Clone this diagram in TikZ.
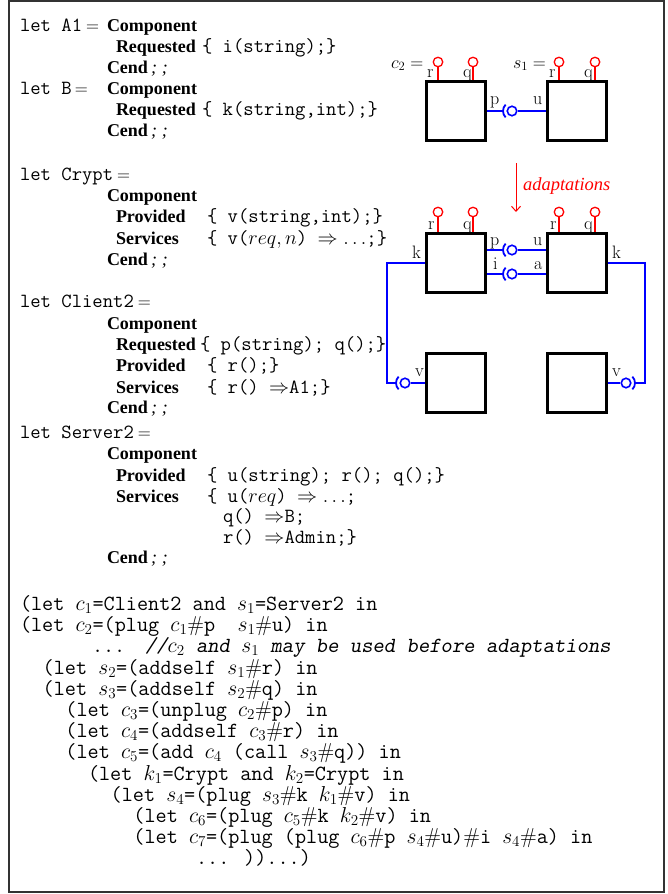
\RequirePackage{fix-cm}
\documentclass[tikz,border=0pt]{standalone}
\usepackage{fontspec}
\newfontfamily\kwfont{Liberation Serif}
\usetikzlibrary{arrows.meta}

\tikzset{
  txt/.style={inner sep=0pt, outer sep=0pt, anchor=base west, font=\fontsize{18}{21}\selectfont},
  kw/.style={txt, font=\fontsize{18}{21}\selectfont\kwfont\bfseries},
  code/.style={txt, font=\fontsize{20.1}{21}\selectfont\ttfamily, text height=13pt, text depth=4pt},
  prog/.style={txt, font=\fontsize{21.6}{21}\selectfont\ttfamily, text height=13pt, text depth=4pt},
  note/.style={prog, font=\fontsize{21.6}{21}\selectfont\ttfamily\slshape},
  port/.style={txt, font=\fontsize{18}{21}\selectfont},
  compbox/.style={draw, line width=3pt, minimum size=59pt, inner sep=0pt},
  selfball/.style={circle, draw=red, line width=1.3pt, minimum size=9.5pt, inner sep=0pt},
  stem/.style={draw=red, line width=1.3pt},
  wire/.style={draw=blue, line width=1.3pt},
  ball/.style={circle, draw=blue, line width=1.6pt, minimum size=9.5pt, inner sep=0pt},
  sock/.style={draw=blue, line width=1.8pt},
}
% end of a component block
\newcommand\cendkw{Cend{\mdseries\itshape\,;\hspace{5pt};}}

\begin{document}
\begin{tikzpicture}[x=1pt, y=-1pt]
\useasboundingbox (0,0) rectangle (668,894);
\draw[black!80, line width=1.2pt] (9,1) rectangle (664,892);

% ---------- component definitions ----------
\node[code] (la1) at (20,31) {let A1};
\node[txt] (la1eq) at ([xshift=4pt]la1.base east) {$=$};
\node[kw] (a1comp) at (107,31) {Component};
\node[kw] (a1req) at (116,52) {Requested};
\node[code] (a1reqs) at (202,52) {\{ i(string);\}};
\node[kw] (a1end) at (107,73) {\cendkw};

\node[code] (lb) at (20,94) {let B};
\node[txt] (lbeq) at ([xshift=3pt]lb.base east) {$=$};
\node[kw] (bcomp) at (107,94) {Component};
\node[kw] (breq) at (116,115) {Requested};
\node[code] (breqs) at (202,115) {\{ k(string,int);\}};
\node[kw] (bend) at (107,136) {\cendkw};

\node[code] (lk) at (20,180) {let Crypt};
\node[txt] (lkeq) at ([xshift=4pt]lk.base east) {$=$};
\node[kw] (kcomp) at (107,201) {Component};
\node[kw] (kprov) at (116,222) {Provided};
\node[code] (kprovs) at (207,222) {\{ v(string,int);\}};
\node[kw] (kserv) at (116,244) {Services};
\node[code] (kservs) at (207,244) {\{ v($req, n$) $\Rightarrow\ldots$;\}};
\node[kw] (kend) at (107,265) {\cendkw};

\node[code] (lc) at (20,307) {let Client2};
\node[txt] (lceq) at ([xshift=4pt]lc.base east) {$=$};
\node[kw] (ccomp) at (107,329) {Component};
\node[kw] (creq) at (116,350) {Requested};
\node[code] (creqs) at (200,350) {\{ p(string); q();\}};
\node[kw] (cprov) at (116,371) {Provided};
\node[code] (cprovs) at (207,371) {\{ r();\}};
\node[kw] (cserv) at (116,393) {Services};
\node[code] (cservs) at (207,393) {\{ r() $\Rightarrow$A1;\}};
\node[kw] (cend) at (107,413) {\cendkw};

\node[code] (ls) at (20,438) {let Server2};
\node[txt] (lseq) at ([xshift=4pt]ls.base east) {$=$};
\node[kw] (scomp) at (107,459) {Component};
\node[kw] (sprov) at (116,481) {Provided};
\node[code] (sprovs) at (207,481) {\{ u(string); r(); q();\}};
\node[kw] (sserv) at (116,502) {Services};
\node[code] (sserv1) at (207,502) {\{ u($req$) $\Rightarrow\ldots$;};
\node[code] (sserv2) at (223,522) {q() $\Rightarrow$B;};
\node[code] (sserv3) at (223,543) {r() $\Rightarrow$Admin;\}};
\node[kw] (send) at (107,563) {\cendkw};

% ---------- assembly program ----------
\node[prog] (p1) at (20,610) {(let $c_1$=Client2 and $s_1$=Server2 in};
\node[prog] (p2) at (20,631) {(let $c_2$=(plug $c_1\#$p~~$s_1\#$u) in};
\node[prog] (p3a) at (92,652) {...};
\node[note] (p3b) at (145,652) {//$c_2$ and $s_1$ may be used before adaptations};
\node[prog] (p4) at (42.7,674) {(let $s_2$=(addself $s_1\#$r) in};
\node[prog] (p5) at (42.7,695) {(let $s_3$=(addself $s_2\#$q) in};
\node[prog] (p6) at (65.4,716) {(let $c_3$=(unplug $c_2\#$p) in};
\node[prog] (p7) at (65.4,737) {(let $c_4$=(addself $c_3\#$r) in};
\node[prog] (p8) at (65.4,758) {(let $c_5$=(add $c_4$ (call $s_3\#$q)) in};
\node[prog] (p9) at (88,780) {(let $k_1$=Crypt and $k_2$=Crypt in};
\node[prog] (p10) at (110.7,801) {(let $s_4$=(plug $s_3\#$k $k_1\#$v) in};
\node[prog] (p11) at (133.4,822) {(let $c_6$=(plug $c_5\#$k $k_2\#$v) in};
\node[prog] (p12) at (133.4,843) {(let $c_7$=(plug (plug $c_6\#$p $s_4\#$u)$\#$i $s_4\#$a) in};
\node[prog] (p13) at (196,864) {... ))...)};

% ---------- before adaptations: c2 plugged into s1 ----------
\node[compbox] (c2) at (456,111) {};
\node[compbox] (s1) at (577,111) {};
\node[txt] (c2name) at (391,68) {$c_2 =$};
\node[txt] (s1name) at (513,68) {$s_1 =$};

\foreach \n/\x/\y in {c2r/438/62, c2q/473/62, s1r/559/62, s1q/595/62,
                      c7r/438/212, c7q/473/212, s4r/559/212, s4q/595/212}{
  \node[selfball] (\n) at (\x,\y) {};
}
\node[port] (c2rl) at (427,77) {r};
\node[port] (c2ql) at (463,77) {q};
\node[port] (s1rl) at (549,77) {r};
\node[port] (s1ql) at (584,77) {q};

\node[ball] (b1) at (512,111) {};
\draw[wire] (c2.east) -- ([xshift=-9pt]b1.center);
\draw[wire] (b1) -- (s1.west);
\draw[sock] ([shift={(135:9)}]b1.center) arc[start angle=135, end angle=225, radius=9];
\node[port] (b1p) at (490,104) {p};
\node[port] (b1u) at (533,104) {u};

% ---------- adaptations ----------
\coordinate (ad1) at (516,163);
\coordinate (ad2) at (516,212);
\draw[red, line width=1pt, -{Straight Barb[length=5pt, width=9pt]}] (ad1) -- (ad2);
\node[txt, text=red, font=\fontsize{18.5}{21}\selectfont\kwfont\itshape] (adl) at (523,190) {adaptations};

% ---------- after adaptations ----------
\node[compbox] (c7) at (456,262.5) {};
\node[compbox] (s4) at (577,262.5) {};
\node[compbox] (k2) at (456,383) {};
\node[compbox] (k1) at (577,383) {};

\foreach \n/\b in {c2r/c2, c2q/c2, s1r/s1, s1q/s1, c7r/c7, c7q/c7, s4r/s4, s4q/s4}{
  \draw[stem] (\n) -- (\n |- \b.north);
}
\node[port] (c7rl) at (428,229) {r};
\node[port] (c7ql) at (463,229) {q};
\node[port] (s4rl) at (550,229) {r};
\node[port] (s4ql) at (584,229) {q};

\node[ball] (b2) at (512,250) {};
\draw[wire] (b2 -| c7.east) -- ([xshift=-9pt]b2.center);
\draw[wire] (b2) -- (b2 -| s4.west);
\draw[sock] ([shift={(135:9)}]b2.center) arc[start angle=135, end angle=225, radius=9];
\node[port] (b2p) at (490,245) {p};
\node[port] (b2u) at (533,245) {u};

\node[ball] (b3) at (512,274) {};
\draw[wire] (b3 -| c7.east) -- ([xshift=-9pt]b3.center);
\draw[wire] (b3) -- (b3 -| s4.west);
\draw[sock] ([shift={(135:9)}]b3.center) arc[start angle=135, end angle=225, radius=9];
\node[port] (b3i) at (493,269) {i};
\node[port] (b3a) at (534,269) {a};

% client side k plugged into crypt k2
\coordinate (kl1) at (387,263);
\coordinate (kl2) at (387,383);
\node[ball] (bv1) at (405,383) {};
\draw[wire] (kl1 -| c7.west) -- (kl1) -- (kl2) -- ([xshift=-9pt]bv1.center);
\draw[wire] (bv1) -- (k2.west);
\draw[sock] ([shift={(135:9)}]bv1.center) arc[start angle=135, end angle=225, radius=9];
\node[port] (kll) at (412,258) {k};
\node[port] (vll) at (415,376) {v};

% server side k plugged into crypt k1
\coordinate (kr1) at (645,263);
\coordinate (kr2) at (645,383);
\node[ball] (bv2) at (626,383) {};
\draw[wire] (kr1 -| s4.east) -- (kr1) -- (kr2) -- ([xshift=9pt]bv2.center);
\draw[wire] (k1.east) -- (bv2);
\draw[sock] ([shift={(-45:9)}]bv2.center) arc[start angle=-45, end angle=45, radius=9];
\node[port] (krl) at (612,258) {k};
\node[port] (vrl) at (612,376) {v};
\end{tikzpicture}
\end{document}
